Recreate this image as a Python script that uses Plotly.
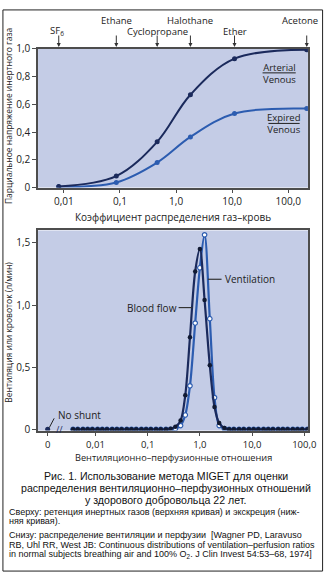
import numpy as np
import plotly.graph_objects as go

# ---------------- data: top panel (retention / excretion) ----------------
gas_names = ["SF<sub>6</sub>", "Ethane", "Cyclopropane", "Halothane", "Ether", "Acetone"]
gas_lambda = [0.0081, 0.086, 0.46, 1.8, 11.0, 213.0]
arterial = [0.008, 0.083, 0.33, 0.67, 0.93, 0.995]
expired = [0.005, 0.037, 0.18, 0.365, 0.534, 0.57]
gas_label_row = [1, 0, 1, 0, 1, 0]  # 0 = upper row, 1 = lower row

top_xticks = [0.01, 0.1, 1, 10, 100]
top_xtext = ["0,01", "0,1", "1,0", "10,0", "100,0"]
top_yticks = [0, 0.2, 0.4, 0.6, 0.8, 1.0]
top_ytext = ["0", "0,2", "0,4", "0,6", "0,8", "1,0"]

# ---------------- data: bottom panel (V/Q distribution) ----------------
# compartments, log10(VA/Q)
vq_log = [-2.43, -2.34, -2.24, -2.15, -2.06, -1.96, -1.87, -1.78, -1.68, -1.59,
          -1.50, -1.40, -1.31, -1.22, -1.12, -1.03, -0.94, -0.84, -0.75, -0.65,
          -0.56, -0.47, -0.37, -0.28, -0.19, -0.09, 0.00, 0.09, 0.19, 0.28,
          0.37, 0.47, 0.56, 0.65, 0.75, 0.84, 0.94, 1.03, 1.12, 1.22,
          1.31, 1.40, 1.50, 1.59, 1.68, 1.78, 1.87, 1.96, 2.06]
blood_flow = [0, 0, 0, 0, 0, 0, 0, 0, 0, 0,
              0, 0, 0, 0, 0, 0, 0, 0, 0, 0,
              0.005, 0.02, 0.07, 0.275, 0.74, 1.27, 1.45, 1.04, 0.515, 0.18,
              0.05, 0.01, 0, 0, 0, 0, 0, 0, 0, 0,
              0, 0, 0, 0, 0, 0, 0, 0, 0]
ventilation = [0, 0, 0, 0, 0, 0, 0, 0, 0, 0,
               0, 0, 0, 0, 0, 0, 0, 0, 0, 0,
               0, 0.005, 0.03, 0.115, 0.35, 0.855, 1.30, 1.565, 0.89, 0.255,
               0.03, 0.005, 0, 0, 0, 0, 0, 0, 0, 0,
               0, 0, 0, 0, 0, 0, 0, 0, 0]
shunt_pos = -2.916
shunt_value = 0.0

bot_xticks = [-2.916, -2, -1, 0, 1, 2]
bot_xtext = ["0", "0,01", "0,1", "1,0", "10,0", "100,0"]
bot_yticks = [0, 0.5, 1.0, 1.5]
bot_ytext = ["0", "0,5", "1,0", "1,5"]

# ---------------- layout helpers ----------------
W, H = 334, 581
def X(px):
    return px / W
def Y(py):
    return 1 - py / H

NAVY = "#1b2a5c"
BLUE = "#2c5cb0"
BG = "#c4cce6"
AX = "#4d4d4d"
FONT = "Open Sans"
CAP = "Liberation Sans"

fig = go.Figure()

# top curves
fig.add_trace(go.Scatter(x=gas_lambda, y=expired, mode="lines+markers",
                         line=dict(color=BLUE, width=2, shape="spline", smoothing=1.0),
                         marker=dict(color=BLUE, size=5), xaxis="x", yaxis="y",
                         showlegend=False, hoverinfo="skip"))
fig.add_trace(go.Scatter(x=gas_lambda, y=arterial, mode="lines+markers",
                         line=dict(color=NAVY, width=2, shape="spline", smoothing=1.0),
                         marker=dict(color=NAVY, size=5), xaxis="x", yaxis="y",
                         showlegend=False, hoverinfo="skip"))

# bottom curves
fig.add_trace(go.Scatter(x=vq_log, y=ventilation, mode="lines+markers",
                         line=dict(color=BLUE, width=2.2, shape="spline", smoothing=0.9),
                         marker=dict(color="white", size=4.5, line=dict(color=BLUE, width=1.2)),
                         xaxis="x2", yaxis="y2", showlegend=False, hoverinfo="skip"))
fig.add_trace(go.Scatter(x=vq_log, y=blood_flow, mode="lines+markers",
                         line=dict(color=NAVY, width=2.2, shape="spline", smoothing=0.9),
                         marker=dict(color="#111a33", size=4.5),
                         xaxis="x2", yaxis="y2", showlegend=False, hoverinfo="skip"))
fig.add_trace(go.Scatter(x=[shunt_pos], y=[shunt_value], mode="markers",
                         marker=dict(color=NAVY, size=5), xaxis="x2", yaxis="y2",
                         showlegend=False, hoverinfo="skip"))

axis_common = dict(showgrid=False, zeroline=False, showline=True, linecolor=AX,
                   linewidth=1.5, mirror=True, ticks="outside", ticklen=4,
                   tickcolor=AX)
tf = dict(family=FONT, size=10, color="#222")

fig.update_layout(
    width=W, height=H, autosize=False,
    margin=dict(l=0, r=0, t=0, b=0),
    paper_bgcolor="white", plot_bgcolor=BG,
    xaxis=dict(type="log", range=[-2.46, 2.35], domain=[X(39), X(315.5)],
               tickvals=top_xticks, ticktext=top_xtext, anchor="y", tickfont=tf, **axis_common),
    yaxis=dict(range=[0, 1.0], domain=[Y(185), Y(43)], tickvals=top_yticks,
               ticktext=top_ytext, anchor="x", tickfont=tf, **axis_common),
    xaxis2=dict(range=[-3.10, 2.07], domain=[X(39), X(315.5)],
                tickvals=bot_xticks, ticktext=bot_xtext, anchor="y2",
                tickfont=dict(family=FONT, size=9.5, color="#222"), **axis_common),
    yaxis2=dict(range=[-0.01, 1.60], domain=[Y(434), Y(229)], tickvals=bot_yticks,
                ticktext=bot_ytext, anchor="x2", tickfont=tf, **axis_common),
)

ann = []
shapes = []

def text_at(xpx, ypx, text, size=10, family=FONT, xanchor="center", angle=0, color="#222"):
    ann.append(dict(x=X(xpx), y=Y(ypx), xref="paper", yref="paper", text=text,
                    showarrow=False, xanchor=xanchor, yanchor="middle", textangle=angle,
                    font=dict(family=family, size=size, color=color)))

def line_at(x0, y0, x1, y1, color="#222", width=1):
    shapes.append(dict(type="line", xref="paper", yref="paper", x0=X(x0), x1=X(x1),
                       y0=Y(y0), y1=Y(y1), line=dict(color=color, width=width)))

# gas labels with arrows
label_shift = {"SF<sub>6</sub>": -2, "Acetone": -7}
for name, lam, row in zip(gas_names, gas_lambda, gas_label_row):
    ypx = 14 if row == 0 else 25
    ann.append(dict(x=np.log10(lam), y=Y(ypx), xref="x", yref="paper", text=name,
                    showarrow=False, xanchor="center", yanchor="middle",
                    xshift=label_shift.get(name, 0),
                    font=dict(family=FONT, size=9.5, color="#222")))
    ann.append(dict(x=np.log10(lam), y=Y(41), xref="x", yref="paper", text="",
                    showarrow=True, ax=0, ay=-13, arrowhead=2, arrowsize=0.8,
                    arrowwidth=1, arrowcolor="#333"))

# fraction labels in top panel
text_at(286, 68, "Arterial<br>Venous", size=9.5)
line_at(269, 67.5, 303, 67.5)
text_at(291, 119.5, "Expired<br>Venous", size=9.5)
line_at(275, 119.3, 307, 119.3)

# bottom labels
text_at(228, 279, "Ventilation", xanchor="left")
line_at(213, 279, 227, 279, color="#333", width=1.2)
text_at(183, 308, "Blood flow", xanchor="right")
line_at(183, 308, 197, 308, color="#333", width=1.2)
text_at(57, 418, "No shunt", xanchor="left")
line_at(50.5, 431, 55.5, 421.5)
# axis break
ann.append(dict(x=-2.68, y=0, xref="x2", yref="y2", text="//", showarrow=False,
                xanchor="center", yanchor="middle",
                font=dict(family=FONT, size=9, color=NAVY)))

# axis titles
text_at(177, 215, "Коэффициент распределения газ–кровь")
text_at(178, 462, "Вентиляционно–перфузионные отношения", size=9.2)
text_at(9, 111, "Парциальное напряжение инертного газа", size=8.5, angle=-90)
text_at(9, 333, "Вентиляция или кровоток (л/мин)", size=8.5, angle=-90)

# caption
cap_title = ["Рис. 1. Использование метода MIGET для оценки",
             "распределения вентиляционно–перфузионных отношений",
             "у здорового добровольца 22 лет."]
for i, line in enumerate(cap_title):
    text_at(170, 481 + 12 * i, line, size=10.6, family=CAP, color="#111")
cap_body = [(517, "Сверху: ретенция инертных газов (верхняя кривая) и экскреция (ниж-"),
            (527, "няя кривая)."),
            (541, "Снизу: распределение вентиляции и перфузии  [Wagner PD, Laravuso"),
            (551, "RB, Uhl RR, West JB: Continuous distributions of ventilation–perfusion ratios"),
            (561, "in normal subjects breathing air and 100% O<sub>2</sub>. J Clin Invest 54:53–68, 1974]")]
for ypx, line in cap_body:
    text_at(7, ypx, line, size=9.0, family=CAP, xanchor="left", color="#111")

# outer frame
shapes.append(dict(type="rect", xref="paper", yref="paper", x0=X(3), x1=X(330.5),
                   y0=Y(578), y1=Y(3), line=dict(color="#222", width=1)))

fig.update_layout(annotations=ann, shapes=shapes)
fig.write_html("out.html")
